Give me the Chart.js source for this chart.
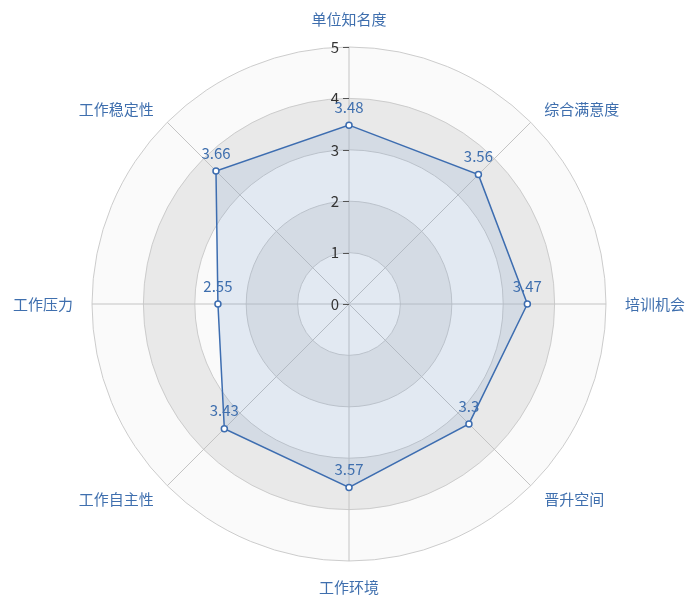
<!DOCTYPE html>
<html><head><meta charset="utf-8">
<script src="https://cdn.jsdelivr.net/npm/chart.js@4/dist/chart.umd.min.js"></script>
<style>html,body{margin:0;padding:0;background:#fff}#wrap{width:687px;height:595px;position:relative}</style>
</head><body><div id="wrap"><canvas id="c" width="687" height="595"></canvas></div>
<script>
const categories = ['单位知名度','综合满意度','培训机会','晋升空间','工作环境','工作自主性','工作压力','工作稳定性'];
const values = [3.48, 3.56, 3.47, 3.3, 3.57, 3.43, 2.55, 3.66];
const tickValues = [0, 1, 2, 3, 4, 5];

const FONT = '"Noto Sans CJK SC", "Noto Sans", sans-serif';
const LABEL_COLOR = '#3f6fae';
const LINE_COLOR = '#3d6db0';

const ringPlugin = {
  id: 'rings',
  beforeDraw(chart) {
    const s = chart.scales.r, ctx = chart.ctx;
    const colors = ['#fafafa', '#e9e9e9'];
    ctx.save();
    for (let i = tickValues.length - 2; i >= 0; i--) {
      const rOut = s.getDistanceFromCenterForValue(tickValues[i + 1]);
      ctx.beginPath();
      ctx.arc(s.xCenter, s.yCenter, rOut, 0, Math.PI * 2);
      ctx.fillStyle = colors[i % 2];
      ctx.fill();
    }
    ctx.restore();
  }
};

const labelPlugin = {
  id: 'labels',
  afterDatasetsDraw(chart) {
    const s = chart.scales.r, ctx = chart.ctx;
    ctx.save();
    // tick labels
    ctx.font = '15px ' + FONT;
    ctx.fillStyle = '#333';
    ctx.textAlign = 'right';
    ctx.textBaseline = 'middle';
    ctx.strokeStyle = '#555';
    ctx.lineWidth = 1;
    tickValues.forEach(v => {
      const y = s.yCenter - s.getDistanceFromCenterForValue(v);
      ctx.fillText(String(v), s.xCenter - 10, y);
      ctx.beginPath();
      ctx.moveTo(s.xCenter - 6, Math.round(y) + 0.5);
      ctx.lineTo(s.xCenter, Math.round(y) + 0.5);
      ctx.stroke();
    });
    // point labels
    ctx.font = '15px ' + FONT;
    ctx.fillStyle = LABEL_COLOR;
    categories.forEach((c, i) => {
      const p = s.getPointPosition(i, s.drawingArea + 19);
      let align = 'center', dy = 0;
      if (i === 0) { dy = -9; }
      else if (i === 4) { dy = 7; }
      else if (i < 4) { align = 'left'; }
      else { align = 'right'; }
      ctx.textAlign = align;
      ctx.textBaseline = 'middle';
      ctx.fillText(c, p.x, p.y + dy);
    });
    // value labels
    ctx.font = '15px ' + FONT;
    ctx.textAlign = 'center';
    ctx.textBaseline = 'middle';
    const meta = chart.getDatasetMeta(0);
    meta.data.forEach((pt, i) => {
      ctx.fillText(String(values[i]), pt.x, pt.y - 18);
    });
    ctx.restore();
  }
};

new Chart(document.getElementById('c'), {
  type: 'radar',
  data: {
    labels: categories,
    datasets: [{
      data: values,
      borderColor: LINE_COLOR,
      borderWidth: 1.5,
      backgroundColor: 'rgba(97,143,203,0.15)',
      fill: true,
      pointRadius: 3,
      pointBorderWidth: 1.5,
      pointBackgroundColor: '#fff',
      pointBorderColor: LINE_COLOR,
      tension: 0
    }]
  },
  options: {
    responsive: false,
    animation: false,
    devicePixelRatio: 1,
    layout: { padding: { top: 47, bottom: 34, left: 92, right: 81 } },
    plugins: { legend: { display: false }, tooltip: { enabled: false } },
    scales: {
      r: {
        min: 0, max: 5,
        ticks: { stepSize: 1, display: false },
        pointLabels: { display: false },
        grid: { circular: true, color: '#cccccc', lineWidth: 1 },
        angleLines: { color: '#c4c4c4', lineWidth: 1 }
      }
    }
  },
  plugins: [ringPlugin, labelPlugin]
});
</script>
</body></html>
